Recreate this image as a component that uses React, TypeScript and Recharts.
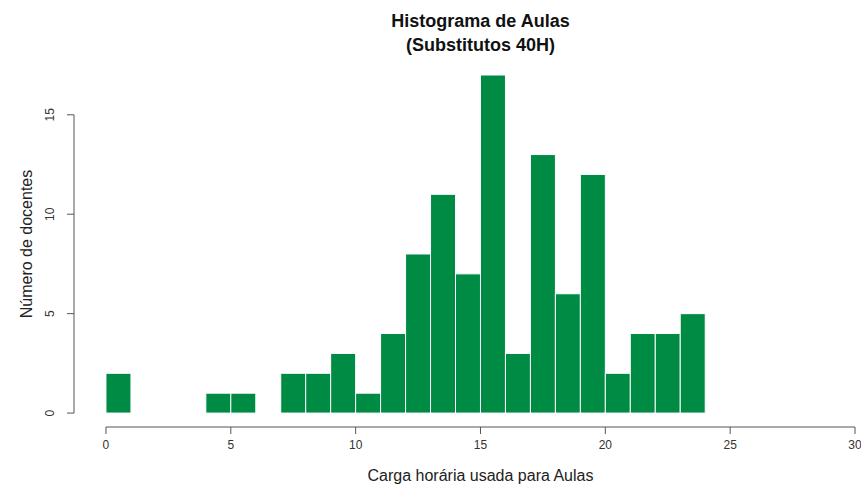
import { BarChart, Bar, XAxis, YAxis, ReferenceLine } from 'recharts';

// bins of width 1 from 0 to 24
const binStarts = [0, 1, 2, 3, 4, 5, 6, 7, 8, 9, 10, 11, 12, 13, 14, 15, 16, 17, 18, 19, 20, 21, 22, 23];
const counts = [2, 0, 0, 0, 1, 1, 0, 2, 2, 3, 1, 4, 8, 11, 7, 17, 3, 13, 6, 12, 2, 4, 4, 5];
const xTicks = [0, 5, 10, 15, 20, 25, 30];
const yTicks = [0, 5, 10, 15];

const data = binStarts.map((start, i) => ({ mid: start + 0.5, count: counts[i] }));

const font = '"Liberation Sans", Arial, sans-serif';
const axisColor = '#555';

const YTick = ({ x, y, payload }: any) => (
    <text
        x={x - 11}
        y={y}
        transform={`rotate(-90, ${x - 11}, ${y})`}
        textAnchor="middle"
        fontSize={12}
        fontFamily={font}
        fill="#333"
    >
        {payload.value}
    </text>
);

const App = () => {
    return (
        <div style={{ position: 'absolute', left: 0, top: 0, width: 861, height: 486, background: '#fff' }}>
            <div
                style={{
                    position: 'absolute',
                    left: 0,
                    width: 961,
                    top: 9,
                    textAlign: 'center',
                    fontFamily: font,
                    fontWeight: 'bold',
                    fontSize: 18,
                    lineHeight: '24px',
                    color: '#111',
                }}
            >
                Histograma de Aulas
                <br />
                (Substitutos 40H)
            </div>
            <div
                style={{
                    position: 'absolute',
                    left: 0,
                    width: 961,
                    top: 467,
                    textAlign: 'center',
                    fontFamily: font,
                    fontSize: 16,
                    color: '#222',
                }}
            >
                Carga horária usada para Aulas
            </div>
            <div
                style={{
                    position: 'absolute',
                    left: 27,
                    top: 244,
                    transform: 'translate(-50%, -50%) rotate(-90deg)',
                    whiteSpace: 'nowrap',
                    fontFamily: font,
                    fontSize: 16,
                    color: '#222',
                }}
            >
                Número de docentes
            </div>
            <BarChart
                width={861}
                height={486}
                data={data}
                margin={{ top: 75, right: 6, bottom: 0, left: 0 }}
                barCategoryGap={0}
                style={{ position: 'absolute', left: 0, top: 0 }}
            >
                <XAxis
                    dataKey="mid"
                    type="number"
                    domain={[-1.28, 30]}
                    allowDataOverflow
                    ticks={xTicks}
                    height={59}
                    axisLine={false}
                    tickSize={7}
                    tickMargin={6}
                    tickLine={{ stroke: axisColor }}
                    tick={{ fontSize: 12, fontFamily: font, fill: '#333' }}
                    interval={0}
                />
                <YAxis
                    type="number"
                    domain={[-0.7, 17]}
                    allowDataOverflow
                    ticks={yTicks}
                    width={74}
                    axisLine={false}
                    tickSize={7}
                    tickLine={{ stroke: axisColor }}
                    tick={<YTick />}
                    interval={0}
                />
                <ReferenceLine
                    segment={[{ x: 0, y: -0.7 }, { x: 30, y: -0.7 }]}
                    stroke={axisColor}
                    ifOverflow="visible"
                />
                <ReferenceLine
                    segment={[{ x: -1.28, y: 0 }, { x: -1.28, y: 15 }]}
                    stroke={axisColor}
                    ifOverflow="visible"
                />
                <Bar dataKey="count" fill="#008B45" stroke="#fff" strokeWidth={1} isAnimationActive={false} />
            </BarChart>
        </div>
    );
};

export default App;
